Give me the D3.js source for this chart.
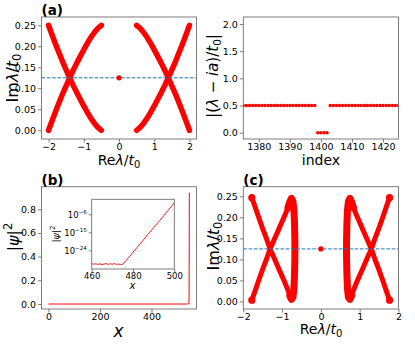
<!DOCTYPE html>
<html><head><meta charset="utf-8">
<script src="https://cdn.jsdelivr.net/npm/d3@7"></script>
<style>body{margin:0;background:#fff}svg{display:block;font-family:"DejaVu Sans",sans-serif}</style>
</head><body><svg id="c" width="415" height="344"></svg>
<script>
// ---------- data ----------
// (a) left: spectrum arcs
const aRightRe = [0.5,0.6,0.7,0.8,0.9,1.0,1.1,1.2,1.3,1.4,1.5,1.6,1.7,1.8,1.9,2.0];
const aLeftRe  = [-0.5,-0.6,-0.7,-0.8,-0.9,-1.0,-1.1,-1.2,-1.3,-1.4,-1.5,-1.6,-1.7,-1.8,-1.9,-2.0];
const aImOut   = [0.000,0.007,0.017,0.029,0.043,0.058,0.074,0.090,0.107,0.125,0.144,0.163,0.184,0.205,0.227,0.250];
const aImIn    = [0.250,0.243,0.233,0.221,0.207,0.192,0.176,0.160,0.143,0.125,0.106,0.087,0.066,0.045,0.023,0.000];
const zeroModeRe = [0];
const zeroModeIm = [0.125];
const lineA = 0.125;
// (a) right: |(λ - ia)/t0| vs index
const aIndex = [1375,1376,1377,1378,1379,1380,1381,1382,1383,1384,1385,1386,1387,1388,1389,1390,1391,1392,1393,1394,1395,1396,1397,1398,
                1399,1400,1401,1402,
                1403,1404,1405,1406,1407,1408,1409,1410,1411,1412,1413,1414,1415,1416,1417,1418,1419,1420,1421,1422,1423,1424,1425];
const aDist  = [0.5,0.5,0.5,0.5,0.5,0.5,0.5,0.5,0.5,0.5,0.5,0.5,0.5,0.5,0.5,0.5,0.5,0.5,0.5,0.5,0.5,0.5,0.5,0.5,
                0,0,0,0,
                0.5,0.5,0.5,0.5,0.5,0.5,0.5,0.5,0.5,0.5,0.5,0.5,0.5,0.5,0.5,0.5,0.5,0.5,0.5,0.5,0.5,0.5,0.5];
// (b) main: |psi|^2 vs x
const bX = [0,100,200,300,400,500,540,544,545,546,547];
const bY = [0,0,0,0,0,0,0,0.0002,0.003,0.054,0.94];
// (b) inset: log10 |psi|^2 for x = 460..500
const insX = [460,461,462,463,464,465,466,467,468,469,470,471,472,473,474,475,476,477,478,479,480,
              481,482,483,484,485,486,487,488,489,490,491,492,493,494,495,496,497,498,499,500];
const insLog = [-30.6,-30.9,-30.7,-31.0,-30.7,-31.1,-30.8,-30.6,-31.0,-30.7,-30.9,-30.6,-31.0,-30.8,-31.1,-30.9,
                -29.8,-28.6,-27.4,-26.2,-24.9,-23.7,-22.5,-21.3,-20.0,-18.8,-17.6,-16.3,-15.1,-13.9,-12.6,
                -11.4,-10.2,-9.0,-7.8,-6.5,-5.3,-4.0,-2.8,-1.5,-0.03];
// (c): disordered spectrum
const cLeftRe = [-1.78,-1.70,-1.60,-1.50,-1.40,-1.31,-1.20,-1.10,-1.00,-0.92,-0.85,-0.80,-0.76,-0.72,-0.695,-0.68,-0.672,-0.670,
                 -0.672,-0.68,-0.695,-0.72,-0.76,-0.80,-0.85,-0.92,-1.00,-1.10,-1.20,-1.31,-1.40,-1.50,-1.60,-1.70,-1.78];
const cLeftIm = [0.247,0.226,0.199,0.173,0.149,0.125,0.102,0.081,0.060,0.043,0.027,0.013,0.005,0.010,0.030,0.065,0.100,0.125,
                 0.150,0.185,0.218,0.238,0.245,0.237,0.223,0.207,0.190,0.169,0.148,0.125,0.101,0.077,0.051,0.024,0.003];
const cRightRe = [1.77,1.69,1.59,1.49,1.39,1.30,1.19,1.09,0.99,0.91,0.84,0.79,0.75,0.71,0.685,0.67,0.662,0.660,
                  0.662,0.67,0.685,0.71,0.75,0.79,0.84,0.91,0.99,1.09,1.19,1.30,1.39,1.49,1.59,1.69,1.77];
const cRightIm = [0.247,0.226,0.199,0.173,0.149,0.125,0.102,0.081,0.060,0.043,0.027,0.013,0.005,0.010,0.030,0.065,0.100,0.125,
                  0.150,0.185,0.218,0.238,0.245,0.237,0.223,0.207,0.190,0.169,0.148,0.125,0.101,0.077,0.051,0.024,0.003];
// ticks
const aXTicks = [-2,-1,0,1,2];
const aYTicks = [0,0.05,0.10,0.15,0.20,0.25];
const idxTicks = [1380,1390,1400,1410,1420];
const distTicks = [0,0.5,1.0,1.5,2.0];
const bXTicks = [0,200,400];
const bYTicks = [0,0.2,0.4,0.6,0.8];
const insXTicks = [460,480,500];
const insYExp = [-24,-15,-6];
const cXTicks = [-2,-1,0,1,2];
const cYTicks = [0,0.05,0.10,0.15,0.20,0.25];

// ---------- drawing ----------
const svg = d3.select("#c");
const SP = "#6f6f6f";
const RED = "#ff0000";
const minus = s => String(s).replace("-", "\u2212");
let clipId = 0;

function panel(o){
  const x = d3.scaleLinear().domain(o.xd).range([o.x0,o.x1]);
  const y = (o.log ? d3.scaleLog() : d3.scaleLinear()).domain(o.yd).range([o.y1,o.y0]);
  const g = svg.append("g");
  g.append("rect").attr("x",o.x0).attr("y",o.y0).attr("width",o.x1-o.x0).attr("height",o.y1-o.y0).attr("fill","#fff");
  const id = "clip"+(clipId++);
  g.append("clipPath").attr("id",id).append("rect").attr("x",o.x0).attr("y",o.y0).attr("width",o.x1-o.x0).attr("height",o.y1-o.y0);
  const data = g.append("g").attr("clip-path",`url(#${id})`);
  const fs = o.fs || 9.5;
  const ts = o.ts || 3.5;
  const gx = g.append("g").attr("transform",`translate(0,${o.y1})`)
    .call(d3.axisBottom(x).tickValues(o.xt).tickSize(ts).tickPadding(o.xp==null?1:o.xp).tickFormat(o.xf));
  const gy = g.append("g").attr("transform",`translate(${o.x0},0)`)
    .call(d3.axisLeft(y).tickValues(o.yt).tickSize(ts).tickPadding(2).tickFormat(o.yf));
  [gx,gy].forEach(a=>{
    a.attr("font-family","DejaVu Sans").attr("font-size",fs);
    a.select(".domain").remove();
    a.selectAll("line").attr("stroke",SP).attr("stroke-width",0.9);
    a.selectAll("text").attr("fill","#000");
  });
  g.append("rect").attr("x",o.x0).attr("y",o.y0).attr("width",o.x1-o.x0).attr("height",o.y1-o.y0)
    .attr("fill","none").attr("stroke",SP).attr("stroke-width",0.9);
  return {x,y,data,g,gy,gx};
}

function label(x,y,parts,o){
  o = o||{};
  const t = svg.append("text").attr("x",x).attr("y",y).attr("font-size",o.size||14)
    .attr("text-anchor",o.anchor||"middle").attr("fill","#000");
  if(o.bold) t.attr("font-weight","bold");
  if(o.rot) t.attr("transform",`rotate(-90,${x},${y})`);
  parts.forEach(p=>{
    const s = t.append("tspan").text(p.t);
    if(p.i) s.attr("font-style","italic");
    if(p.dy) s.attr("dy",p.dy);
    if(p.fs) s.attr("font-size",p.fs);
  });
  return t;
}

// ---- (a) left ----
const A = panel({x0:41.5,x1:196.5,y0:17,y1:139,xd:[-2.2,2.2],yd:[-0.0207,0.2698],
  xt:aXTicks,yt:aYTicks,xf:d=>minus(d3.format("d")(d)),yf:d3.format(".2f")});
const arcLine = (re,im)=>d3.line().x((d,i)=>A.x(re[i])).y((d,i)=>A.y(im[i]))(re);
[[aRightRe,aImOut],[aRightRe,aImIn],[aLeftRe,aImOut],[aLeftRe,aImIn]].forEach(([re,im])=>{
  A.data.append("path").attr("d",arcLine(re,im)).attr("fill","none").attr("stroke",RED)
    .attr("stroke-width",5.5).attr("stroke-linecap","round").attr("stroke-linejoin","round");
});
A.data.append("line").attr("x1",A.x.range()[0]).attr("x2",A.x.range()[1]).attr("y1",A.y(lineA)).attr("y2",A.y(lineA))
  .attr("stroke","#1f77b4").attr("stroke-width",1).attr("stroke-dasharray","3.7,1.6");
A.data.selectAll("circle.z").data(zeroModeRe).enter().append("circle")
  .attr("cx",(d,i)=>A.x(d)).attr("cy",(d,i)=>A.y(zeroModeIm[i])).attr("r",2.6).attr("fill",RED);

// ---- (a) right ----
const R = panel({x0:243.3,x1:398.5,y0:17,y1:139,xd:[1375,1425],yd:[-0.116,2.129],
  xt:idxTicks,yt:distTicks,xf:d3.format("d"),yf:d3.format(".1f")});
R.data.selectAll("circle").data(aIndex).enter().append("circle")
  .attr("cx",d=>R.x(d)).attr("cy",(d,i)=>R.y(aDist[i])).attr("r",1.75).attr("fill",RED);

// ---- (b) main ----
const B = panel({x0:41.5,x1:196.5,y0:186.7,y1:309,xd:[-27.2,574.8],yd:[-0.042,0.99],
  xt:bXTicks,yt:bYTicks,xf:d3.format("d"),yf:d3.format(".1f")});
B.data.append("path").attr("d",d3.line().x((d,i)=>B.x(bX[i])).y((d,i)=>B.y(bY[i]))(bX))
  .attr("fill","none").attr("stroke",RED).attr("stroke-width",1);

// ---- (b) inset ----
const I = panel({x0:91.7,x1:174.3,y0:199.3,y1:269,xd:[460,500],yd:[Math.pow(10,-33.3),Math.pow(10,1.5)],log:true,
  xt:insXTicks,yt:insYExp.map(e=>Math.pow(10,e)),xf:d3.format("d"),yf:d=>"",fs:8.5,ts:3,xp:0.5});
I.gy.selectAll(".tick text").each(function(d,i){
  const t = d3.select(this); t.text(null);
  t.append("tspan").text("10");
  t.append("tspan").attr("dy",-4).attr("font-size",5.5).text("\u2212"+Math.abs(insYExp[i]));
});
I.data.append("path").attr("d",d3.line().x((d,i)=>I.x(insX[i])).y((d,i)=>I.y(Math.pow(10,insLog[i])))(insX))
  .attr("fill","none").attr("stroke",RED).attr("stroke-width",0.9);

// ---- (c) ----
const C = panel({x0:243.3,x1:398.5,y0:186.7,y1:309,xd:[-2,2],yd:[-0.018,0.273],
  xt:cXTicks,yt:cYTicks,xf:d=>minus(d3.format("d")(d)),yf:d3.format(".2f")});
[[cLeftRe,cLeftIm],[cRightRe,cRightIm]].forEach(([re,im])=>{
  const ln = d3.line().x((d,i)=>C.x(re[i])).y((d,i)=>C.y(im[i]));
  C.data.append("path").attr("d",ln(re)).attr("fill","none").attr("stroke",RED)
    .attr("stroke-width",5).attr("stroke-linecap","round").attr("stroke-linejoin","round");
  const loop = d3.range(11,25);
  C.data.append("path").attr("d",d3.line().x(i=>C.x(re[i])).y(i=>C.y(im[i]))(loop)).attr("fill","none").attr("stroke",RED)
    .attr("stroke-width",7).attr("stroke-linecap","round").attr("stroke-linejoin","round");
  C.data.selectAll(null).data([0,re.length-1]).enter().append("circle")
    .attr("cx",i=>C.x(re[i])).attr("cy",i=>C.y(im[i])).attr("r",3.6).attr("fill",RED);
});
C.data.append("line").attr("x1",C.x.range()[0]).attr("x2",C.x.range()[1]).attr("y1",C.y(lineA)).attr("y2",C.y(lineA))
  .attr("stroke","#1f77b4").attr("stroke-width",1).attr("stroke-dasharray","3.7,1.6");
C.data.selectAll("circle.z").data(zeroModeRe).enter().append("circle")
  .attr("cx",(d,i)=>C.x(d)).attr("cy",(d,i)=>C.y(zeroModeIm[i])).attr("r",2.6).attr("fill",RED);

// ---- labels ----
const reLab = [{t:"Re"},{t:"λ",i:1},{t:"/"},{t:"t",i:1},{t:"0",dy:3,fs:10}];
const imLab = [{t:"Im"},{t:"λ",i:1},{t:"/"},{t:"t",i:1},{t:"0",dy:3.5,fs:11.5}];
label(119,165,reLab);
label(17.5,78,imLab,{rot:1,size:16});
label(321,165,[{t:"index"}]);
label(218,76,[{t:"|("},{t:"λ",i:1},{t:" − "},{t:"ia",i:1},{t:")/"},{t:"t",i:1},{t:"0",dy:3,fs:10.5},{t:"|",dy:-3}],{rot:1,size:15});
label(118.5,337,[{t:"x",i:1}],{size:17});
label(19,237,[{t:"|"},{t:"ψ",i:1},{t:"|"},{t:"2",dy:-7,fs:11.5}],{rot:1,size:16});
label(132.5,289,[{t:"x",i:1}],{size:10});
label(58.5,234,[{t:"|"},{t:"ψ",i:1},{t:"|"},{t:"2",dy:-4,fs:7}],{rot:1,size:9.5});
label(321,334,reLab);
label(218.5,246,imLab,{rot:1,size:16});
label(41.5,15,[{t:"(a)"}],{bold:1,size:13.5,anchor:"start"});
label(41.5,185,[{t:"(b)"}],{bold:1,size:13.5,anchor:"start"});
label(243.3,185,[{t:"(c)"}],{bold:1,size:13.5,anchor:"start"});
</script></body></html>
